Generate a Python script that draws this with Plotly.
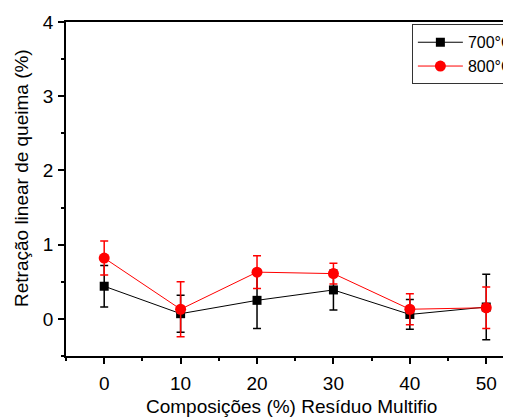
import plotly.graph_objects as go

compositions = [0, 10, 20, 30, 40, 50]
r700 = [0.44, 0.07, 0.25, 0.39, 0.06, 0.16]
r700_err = [0.28, 0.25, 0.38, 0.27, 0.20, 0.44]
r800 = [0.82, 0.13, 0.63, 0.61, 0.13, 0.15]
r800_err = [0.23, 0.37, 0.22, 0.14, 0.21, 0.28]

x_title = "Composições (%) Resíduo Multifio"
y_title = "Retração linear de queima (%)"

font_family = "Liberation Sans, Arial, sans-serif"

fig = go.Figure()
fig.add_trace(go.Scatter(
    x=compositions, y=r700, name="700°C", mode="lines+markers",
    line=dict(color="black", width=1),
    marker=dict(symbol="square", size=9, color="black"),
    error_y=dict(type="data", array=r700_err, visible=True, color="black", thickness=1.5, width=4),
))
fig.add_trace(go.Scatter(
    x=compositions, y=r800, name="800°C", mode="lines+markers",
    line=dict(color="#ff0000", width=1),
    marker=dict(symbol="circle", size=11, color="#ff0000"),
    error_y=dict(type="data", array=r800_err, visible=True, color="#ff0000", thickness=1.5, width=4),
))

# The reference is cropped on the right: the figure is made wider than the
# window so the plot area and legend run off the right edge, as in the source.
# (The page body has an 8px default margin; sizes account for it.)
fig.update_layout(
    width=560, height=409,
    margin=dict(l=58, r=0, t=14, b=61),
    paper_bgcolor="white", plot_bgcolor="white",
    font=dict(family=font_family, size=17, color="black"),
    showlegend=True,
    legend=dict(
        x=0.689, y=0.993, xanchor="left", yanchor="top",
        bgcolor="white", bordercolor="#333333", borderwidth=1,
        font=dict(family=font_family, size=16, color="black"),
        tracegroupgap=0, itemwidth=45,
    ),
    xaxis=dict(
        range=[-5, 60.7], tickmode="array", tickvals=compositions,
        ticks="outside", ticklen=6, tickwidth=1.5, tickcolor="black",
        minor=dict(tickvals=[-5, 5, 15, 25, 35, 45, 55], ticks="outside", ticklen=3, tickwidth=1.5, tickcolor="black"),
        showline=True, linecolor="black", linewidth=1.5, mirror=True,
        showgrid=False, zeroline=False, automargin=False,
        tickfont=dict(size=19), ticklabelstandoff=3,
    ),
    yaxis=dict(
        range=[-0.5, 4], tickmode="array", tickvals=[0, 1, 2, 3, 4],
        ticks="outside", ticklen=6, tickwidth=1.5, tickcolor="black",
        minor=dict(tickvals=[-0.5, 0.5, 1.5, 2.5, 3.5], ticks="outside", ticklen=3, tickwidth=1.5, tickcolor="black"),
        showline=True, linecolor="black", linewidth=1.5,
        showgrid=False, zeroline=False, automargin=False,
        tickfont=dict(size=19), ticklabelstandoff=1,
    ),
    annotations=[
        dict(text=x_title, xref="paper", yref="paper", x=(283 - 58) / 502, y=-0.152,
             xanchor="center", yanchor="middle", showarrow=False,
             font=dict(family=font_family, size=19)),
        dict(text=y_title, xref="paper", yref="paper", x=(14 - 58) / 502, y=0.533,
             xanchor="center", yanchor="middle", showarrow=False, textangle=-90,
             font=dict(family=font_family, size=19)),
    ],
)

fig.write_html("out.html")
